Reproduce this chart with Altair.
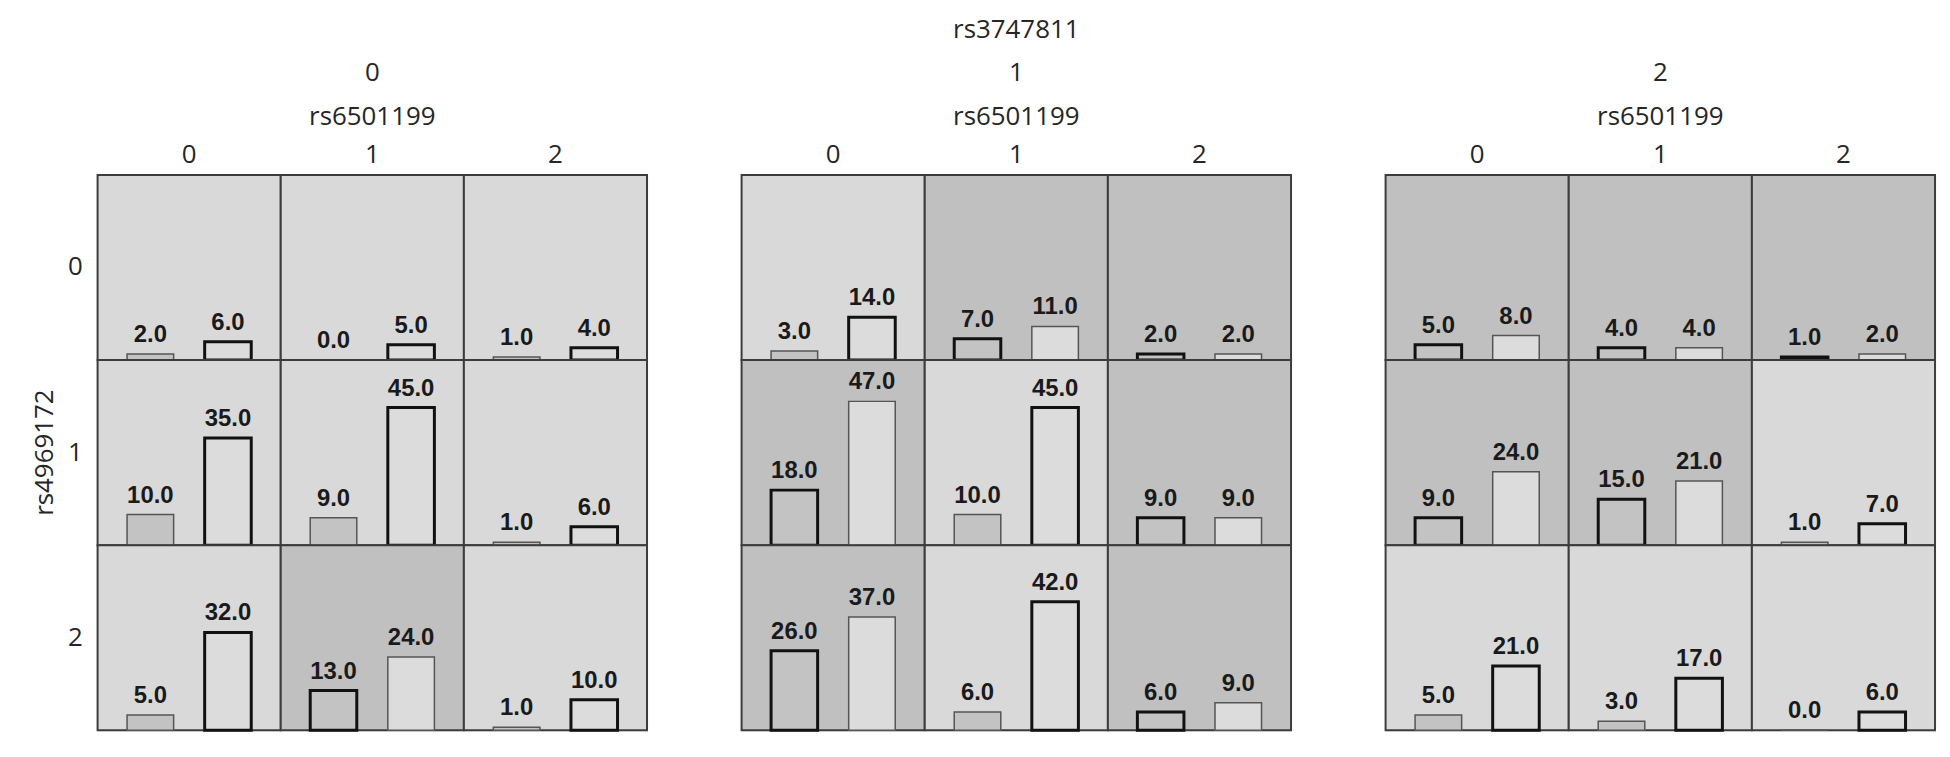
import altair as alt
import pandas as pd

# rs3747811 (panels), rs4969172 (rows), rs6501199 (columns)
panel_levels = ["0", "1", "2"]
row_levels = ["0", "1", "2"]
col_levels = ["0", "1", "2"]
groups = ["case", "control"]

# counts indexed [panel][row][col]
cases = [
    [[2, 0, 1], [10, 9, 1], [5, 13, 1]],
    [[3, 7, 2], [18, 10, 9], [26, 6, 6]],
    [[5, 4, 1], [9, 15, 1], [5, 3, 0]],
]
controls = [
    [[6, 5, 4], [35, 45, 6], [32, 24, 10]],
    [[14, 11, 2], [47, 45, 9], [37, 42, 9]],
    [[8, 4, 2], [24, 21, 7], [21, 17, 6]],
]
# cell risk class: H = high risk, L = low risk
risk = [
    [["L", "L", "L"], ["L", "L", "L"], ["L", "H", "L"]],
    [["L", "H", "H"], ["H", "L", "H"], ["H", "L", "H"]],
    [["H", "H", "H"], ["H", "H", "L"], ["L", "L", "L"]],
]

records = []
for pi, p in enumerate(panel_levels):
    for ri, r in enumerate(row_levels):
        for ci, c in enumerate(col_levels):
            for g, arr in zip(groups, [cases, controls]):
                records.append({"p": p, "r": r, "c": c, "group": g,
                                "value": arr[pi][ri][ci], "risk": risk[pi][ri][ci]})
df = pd.DataFrame(records)

CW, CH = 184, 186
DARK, LIGHT = "#c0c0c0", "#d9d9d9"
BAR_DARK, BAR_LIGHT = "#c3c3c3", "#dcdcdc"
GRID = "#3c3c3c"
EMPH = "(datum.risk == 'H') == (datum.group == 'case')"
FONT = "Open Sans"
TXT = "#262626"
HFS = 26

xenc = alt.X("group:N", scale=alt.Scale(domain=groups, paddingInner=0.4, paddingOuter=0.38), axis=None)
yenc = alt.Y("value:Q", scale=alt.Scale(domain=[0, 60.5]), axis=None)


def panel(i):
    d = df[df.p == panel_levels[i]]
    bg = alt.Chart().transform_filter("datum.group == 'case'").mark_rect(
        strokeWidth=0
    ).encode(
        x=alt.value(0), x2=alt.value(CW), y=alt.value(0), y2=alt.value(CH),
        fill=alt.condition("datum.risk == 'H'", alt.value(DARK), alt.value(LIGHT)),
    )
    frame = alt.Chart().transform_filter("datum.group == 'case'").mark_rect(
        fillOpacity=0, stroke=GRID, strokeWidth=2
    ).encode(
        x=alt.value(0), x2=alt.value(CW), y=alt.value(0), y2=alt.value(CH),
    )
    bars = alt.Chart().mark_bar().encode(
        x=xenc, y=yenc,
        fill=alt.condition("datum.group == 'case'", alt.value(BAR_DARK), alt.value(BAR_LIGHT)),
        stroke=alt.condition(EMPH, alt.value("#111111"), alt.value("#555555")),
        strokeWidth=alt.condition(EMPH, alt.value(3), alt.value(1.5)),
    )
    labels = alt.Chart().mark_text(
        baseline="bottom", dy=-7, fontWeight="bold", fontSize=24,
        font="Liberation Sans", color="#1a1a1a",
    ).encode(x=xenc, y=yenc, text=alt.Text("value:Q", format=".1f"))
    layer = alt.layer(bg, frame, bars, labels, data=d).properties(width=CW, height=CH)

    col_header = alt.Header(
        labelFontSize=HFS, titleFontSize=HFS, labelFont=FONT, titleFont=FONT,
        titleFontWeight="normal", labelColor=TXT, titleColor=TXT,
        labelPadding=7, titlePadding=2, titleLineHeight=44,
    )
    if i == 0:
        row = alt.Row("r:N", title="rs4969172", sort=row_levels, header=alt.Header(
            labelAngle=0, labelFontSize=HFS, titleFontSize=HFS, labelFont=FONT, titleFont=FONT,
            titleFontWeight="normal", labelColor=TXT, titleColor=TXT,
            labelPadding=0, titlePadding=0,
        ))
    else:
        row = alt.Row("r:N", title=None, sort=row_levels, header=alt.Header(labels=False))
    top_line = "rs3747811" if i == 1 else " "
    return layer.facet(
        row=row,
        column=alt.Column("c:N", title=[top_line, panel_levels[i], "rs6501199"],
                          sort=col_levels, header=col_header),
        spacing=0,
        bounds="flush",
    )


chart = alt.hconcat(panel(0), panel(1), panel(2), spacing=91).properties(
    padding={"left": 23, "top": 7, "right": 5, "bottom": 5},
).configure_view(strokeWidth=0).configure(background="white")

chart.save("out.html", embed_options={"renderer": "svg", "actions": False})
